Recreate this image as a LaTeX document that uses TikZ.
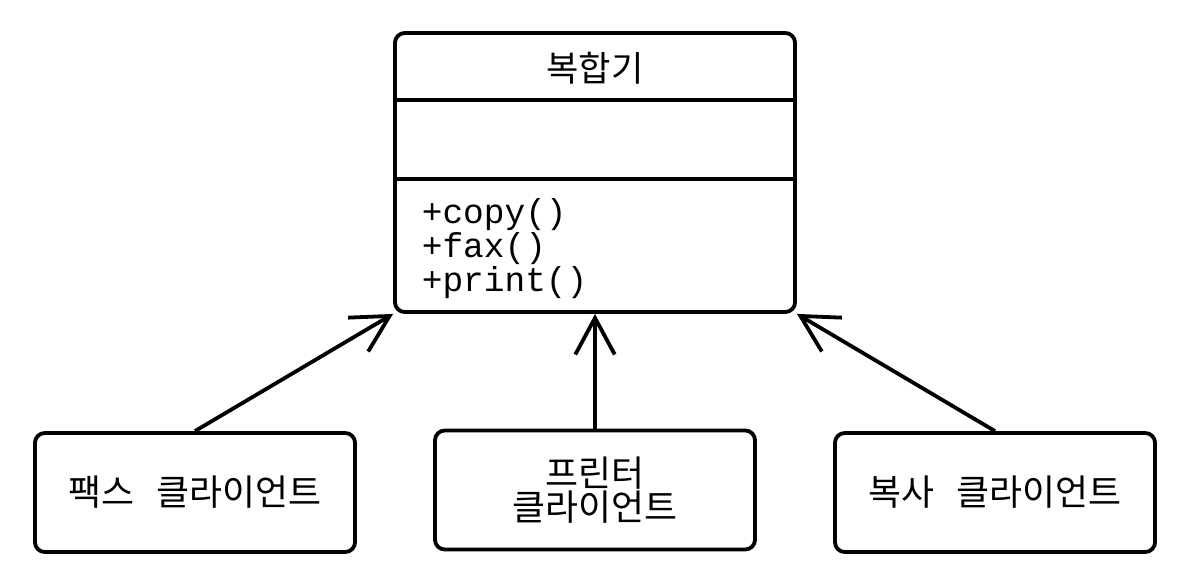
\documentclass[tikz,border=0pt]{standalone}
\usepackage{fontspec}
\newfontfamily\kr{Noto Sans CJK KR}
\setmonofont{Liberation Mono}
\usetikzlibrary{arrows.meta,positioning}

\begin{document}
\begin{tikzpicture}[x=0.025cm, y=-0.025cm, line width=2.7pt,
    umlbox/.style={draw, rounded corners=7pt, inner sep=0pt},
    client/.style={umlbox, minimum width=8cm, minimum height=2.975cm,
      font=\kr\fontsize{25.5}{30}\selectfont, align=center},
    method/.style={anchor=base west, inner sep=0pt, font=\ttfamily\fontsize{24.5}{24}\selectfont},
    dep/.style={-{Straight Barb[length=26pt, width=28pt, line width=2.7pt]}}]
  \useasboundingbox (0,0) rectangle (1188,584);
  % the interface class
  \node[umlbox, minimum width=10cm, minimum height=6.975cm] (mfp) at (595,172.5) {};
  \node[font=\kr\fontsize{25}{28}\selectfont] (title) at (595,68) {복합기};
  \draw (mfp.west |- 0,100) -- (mfp.east |- 0,100);
  \draw (mfp.west |- 0,179) -- (mfp.east |- 0,179);
  \node[method] (copy) at (420,223) {+copy()};
  \node[method] (fax) at (420,257) {+fax()};
  \node[method] (print) at (420,291) {+print()};
  % the clients
  \node[client] (faxc) at (195,492.5) {팩스\hspace{0.6em}클라이언트};
  \node[client] (prnc) at (595,490) {프린터\\[-6pt]클라이언트};
  \node[client] (cpyc) at (995,492.5) {복사\hspace{0.6em}클라이언트};
  % dependencies
  \draw[dep] (faxc.north) -- (mfp.south west);
  \draw[dep] (prnc.north) -- (mfp.south);
  \draw[dep] (cpyc.north) -- (mfp.south east);
\end{tikzpicture}
\end{document}
